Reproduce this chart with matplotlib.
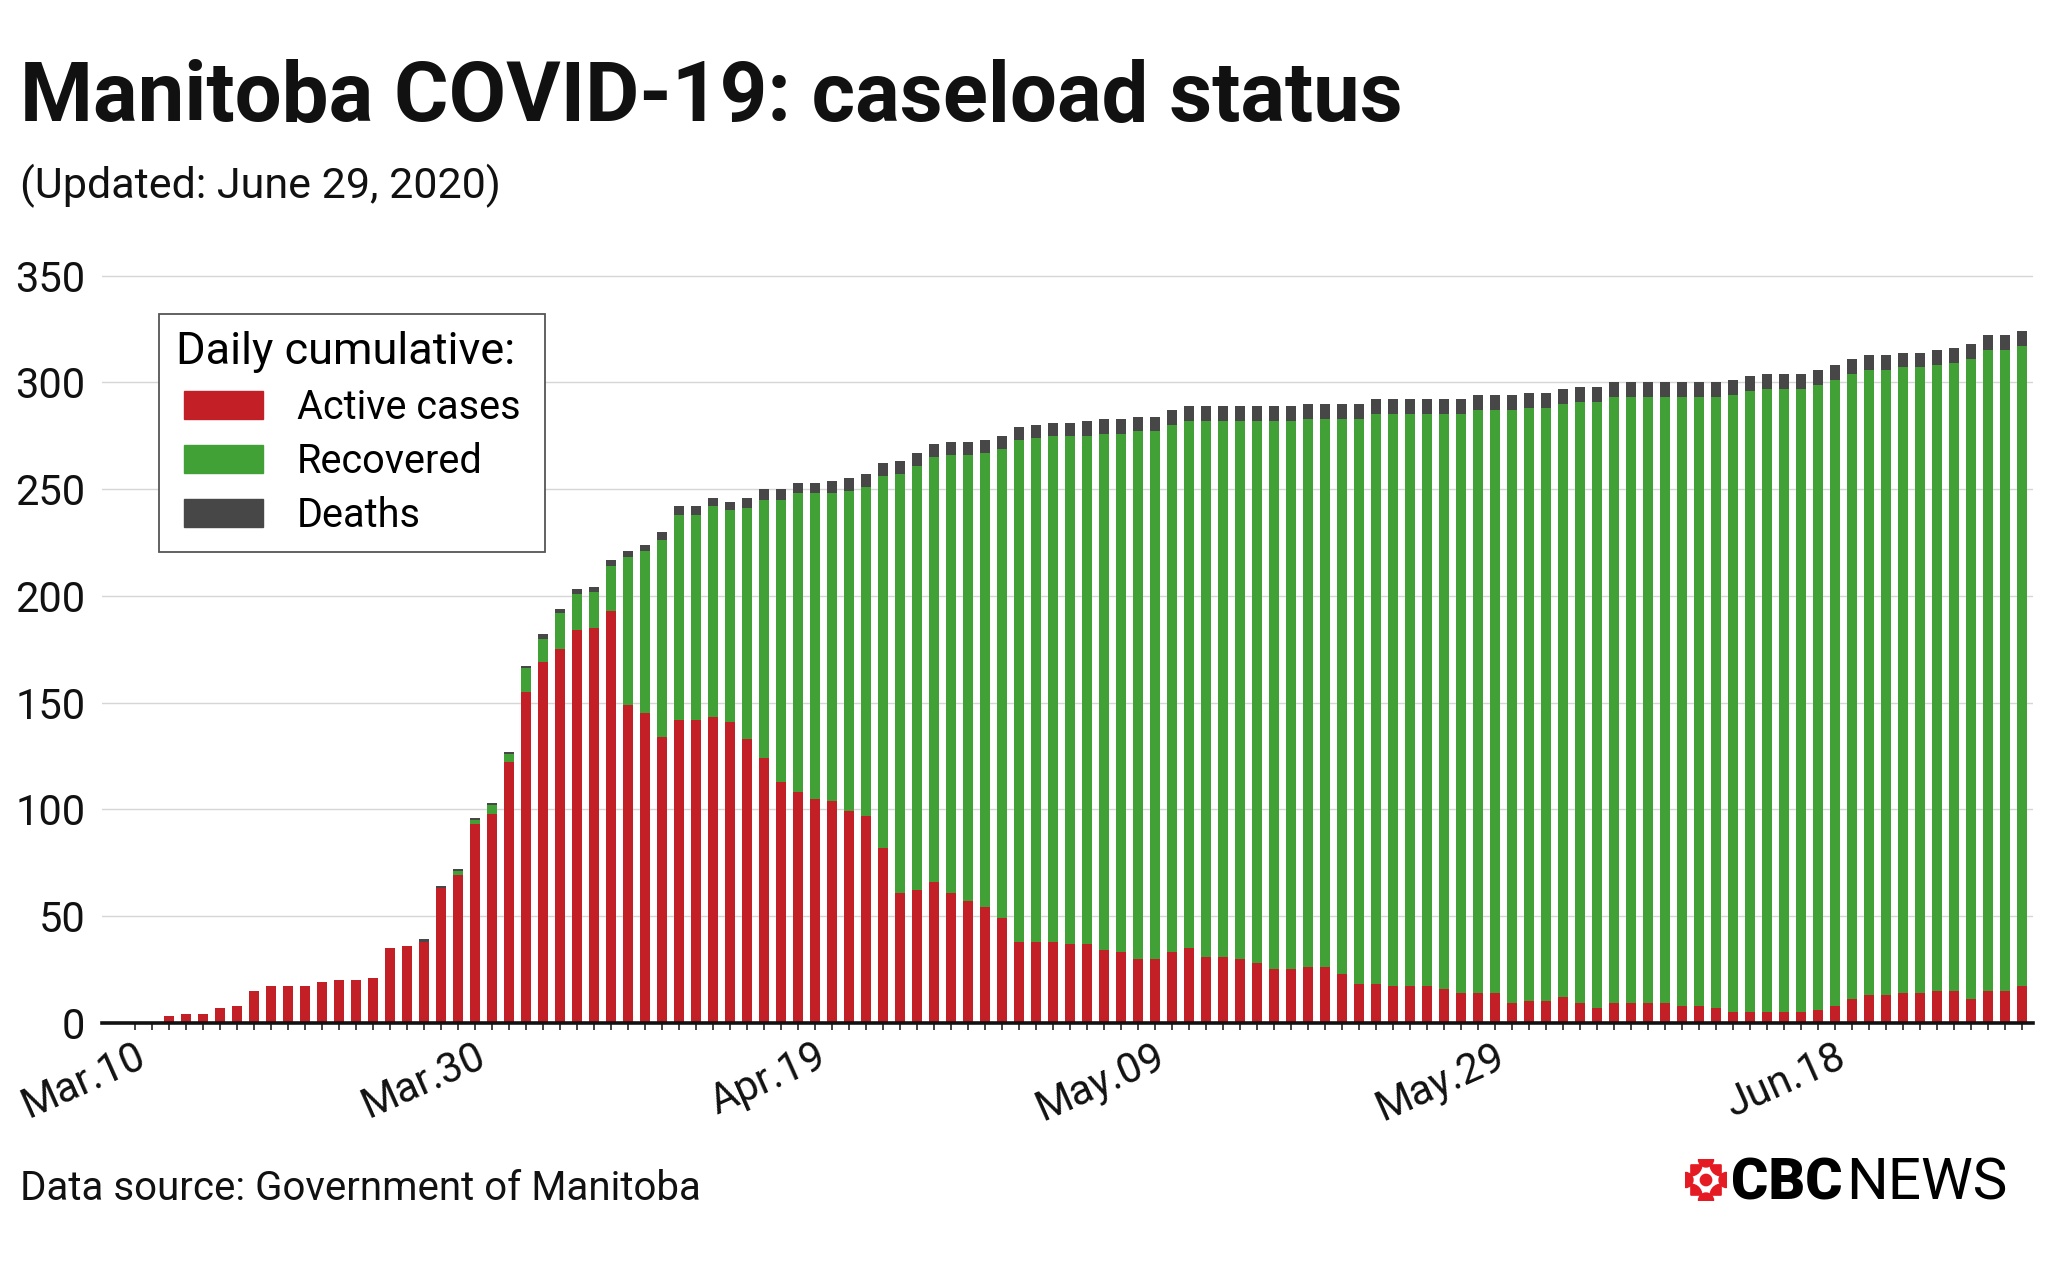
"""Manitoba COVID-19 caseload status, stacked daily bars (CBC style)."""
import matplotlib
matplotlib.use("Agg")
import matplotlib.pyplot as plt
import matplotlib.patches as mpatches
import pandas as pd

# ── Data ──────────────────────────────────────────────────────────────────────
dates = pd.date_range("2020-03-10", "2020-06-29", freq="D")

active = [
    0, 0, 3, 4, 4, 7, 8, 15, 17, 17, 17, 19, 20, 20, 21, 35, 36,
    38, 63, 69, 93, 98, 122, 155, 169, 175, 184, 185, 193,
    149, 145, 134, 142, 142, 143, 141, 133, 124, 113, 108, 105,
    104, 99, 97, 82, 61, 62, 66, 61, 57, 54, 49,
    38, 38, 38, 37, 37, 34, 33, 30, 30, 33, 35,
    31, 31, 30, 28, 25, 25, 26, 26, 23, 18,
    18, 17, 17, 17, 16, 14, 14, 14,
    9, 10, 10, 12, 9, 7, 9, 9, 9, 9, 8, 8, 7,
    5, 5, 5, 5, 5, 6, 8, 11, 13, 13, 14, 14, 15, 15, 11, 15, 15, 17,
]
recovered = [
    0, 0, 0, 0, 0, 0, 0, 0, 0, 0, 0, 0, 0, 0, 0, 0, 0, 0, 0,
    2, 2, 4, 4, 11, 11, 17, 17, 17, 21,
    69, 76, 92, 96, 96, 99, 99, 108, 121, 132, 140, 143,
    144, 150, 154, 174, 196, 199, 199, 205, 209, 213, 220,
    235, 236, 237, 238, 238, 242, 243, 247, 247, 247, 247,
    251, 251, 252, 254, 257, 257, 257, 257, 260, 265,
    267, 268, 268, 268, 269, 271, 273, 273,
    278, 278, 278, 278, 282, 284, 284, 284, 284, 284, 285, 285, 286,
    289, 291, 292, 292, 292, 293, 293, 293, 293, 293, 293, 293, 293, 294,
    300, 300, 300, 300,
]
deaths = [
    0, 0, 0, 0, 0, 0, 0, 0, 0, 0, 0, 0, 0, 0, 0, 0, 0,
    1, 1, 1, 1, 1, 1, 1,
    2, 2, 2, 2,
    3, 3, 3,
    4, 4, 4, 4, 4,
    5, 5, 5, 5, 5,
    6, 6, 6, 6, 6, 6, 6, 6, 6, 6, 6, 6, 6, 6, 6,
    7, 7, 7, 7, 7, 7, 7, 7, 7, 7, 7, 7, 7, 7, 7, 7, 7, 7, 7, 7,
    7, 7, 7, 7, 7, 7, 7, 7, 7, 7, 7, 7, 7, 7, 7, 7, 7, 7, 7, 7,
    7, 7, 7, 7, 7, 7, 7, 7, 7, 7, 7, 7, 7, 7, 7, 7,
]

tick_dates = ["2020-03-10", "2020-03-30", "2020-04-19",
              "2020-05-09", "2020-05-29", "2020-06-18"]
tick_labels = ["Mar.10", "Mar.30", "Apr.19", "May.09", "May.29", "Jun.18"]
y_ticks = [0, 50, 100, 150, 200, 250, 300, 350]

RED = "#c21f27"
GREEN = "#41a137"
DARK = "#474747"
INK = "#111111"

plt.rcParams["font.family"] = ["Roboto", "DejaVu Sans"]

# ── Figure ────────────────────────────────────────────────────────────────────
W, H = 2048, 1269
fig = plt.figure(figsize=(W / 100, H / 100), dpi=100)
fig.patch.set_facecolor("white")

# axes placed in pixel terms of the reference
ax_l, ax_r = 102, 2033
ax_b, ax_t = 1022.7, 271.4          # y=0 and y=352 rows
ax = fig.add_axes([ax_l / W, 1 - ax_b / H, (ax_r - ax_l) / W, (ax_b - ax_t) / H])

x = list(range(len(dates)))
base2 = [a + r for a, r in zip(active, recovered)]
bw = 0.64
ax.bar(x, active, bw, color=RED, linewidth=0, zorder=3)
ax.bar(x, recovered, bw, bottom=active, color=GREEN, linewidth=0, zorder=3)
ax.bar(x, deaths, bw, bottom=base2, color=DARK, linewidth=0, zorder=3)

ax.set_xlim(-1.94, 111.65)
ax.set_ylim(0, 352)

# grid
ax.set_yticks(y_ticks)
ax.yaxis.grid(True, color="#d6d6d6", linewidth=1.0, zorder=0)
ax.set_axisbelow(True)
ax.tick_params(axis="y", length=0, pad=12, labelsize=30, labelcolor=INK)

# x axis: a tick per day, labels every 20 days
tick_pos = [list(dates).index(pd.Timestamp(d)) for d in tick_dates]
ax.set_xticks(x, minor=True)
ax.set_xticks(tick_pos)
ax.set_xticklabels(tick_labels, rotation=24, ha="right", va="top",
                   rotation_mode="anchor", fontsize=30, color=INK)
ax.tick_params(axis="x", which="both", length=5, width=1.1, color=INK,
               direction="out", pad=4.5)

for side in ("top", "right", "left"):
    ax.spines[side].set_visible(False)
ax.spines["bottom"].set_linewidth(2.6)
ax.spines["bottom"].set_color(INK)
ax.spines["bottom"].set_zorder(5)

# legend: content without frame, frame drawn on its own
handles = [
    mpatches.Patch(color=RED, label="Active cases"),
    mpatches.Patch(color=GREEN, label="Recovered"),
    mpatches.Patch(color=DARK, label="Deaths"),
]
leg = ax.legend(handles=handles, title="Daily cumulative:",
                loc="upper left", bbox_to_anchor=(184 / W, 1 - 331 / H),
                bbox_transform=fig.transFigure, borderaxespad=0,
                fontsize=28.5, title_fontsize=32.5, alignment="left",
                frameon=False, handlelength=2.0, handleheight=0.7,
                handletextpad=0.85, labelspacing=0.375, borderpad=0)
leg.get_title().set_position((-8, 0))
leg.set_zorder(10)
ax.add_patch(mpatches.Rectangle(
    (159 / W, 1 - 552 / H), (545 - 159) / W, (552 - 314) / H,
    transform=fig.transFigure, facecolor="white", edgecolor="#555555",
    linewidth=1.3, zorder=9, clip_on=False))

# ── Text ──────────────────────────────────────────────────────────────────────
fig.text(20 / W, 1 - 121 / H, "Manitoba COVID-19: caseload status",
         fontsize=60, fontweight="bold", color=INK, va="baseline", ha="left")
fig.text(20 / W, 1 - 198 / H, "(Updated: June 29, 2020)",
         fontsize=31, color=INK, va="baseline", ha="left")
fig.text(20 / W, 1 - 1200 / H, "Data source: Government of Manitoba",
         fontsize=29, color=INK, va="baseline", ha="left")

# CBC News wordmark
fig.text(1731 / W, 1 - 1199 / H, "CBC", fontsize=41, fontweight="black",
         color="black", va="baseline", ha="left")
fig.text(1846 / W, 1 - 1199 / H, "NEWS", fontsize=42, fontweight="normal",
         color="black", va="baseline", ha="left")

# gem: centre circle, four half-discs and four quarter-discs
gx, gy, gr = 1706, 1180, 21
gem = fig.add_axes([(gx - gr) / W, 1 - (gy + gr) / H, 2 * gr / W, 2 * gr / H])
gem.set_xlim(-1, 1)
gem.set_ylim(-1, 1)
gem.axis("off")
GEM = "#e41b23"
gem.add_patch(mpatches.Circle((0, 0), 0.27, color=GEM))
for cx, cy, a0 in [(0, 0.98, 180), (0.98, 0, 90), (0, -0.98, 0), (-0.98, 0, 270)]:
    gem.add_patch(mpatches.Wedge((cx, cy), 0.36, a0, a0 + 180, color=GEM))
for cx, cy, a0 in [(0.72, 0.72, 180), (0.72, -0.72, 90),
                   (-0.72, -0.72, 0), (-0.72, 0.72, 270)]:
    gem.add_patch(mpatches.Wedge((cx, cy), 0.52, a0, a0 + 90, color=GEM))

fig.savefig("out.png", dpi=100, facecolor="white")
